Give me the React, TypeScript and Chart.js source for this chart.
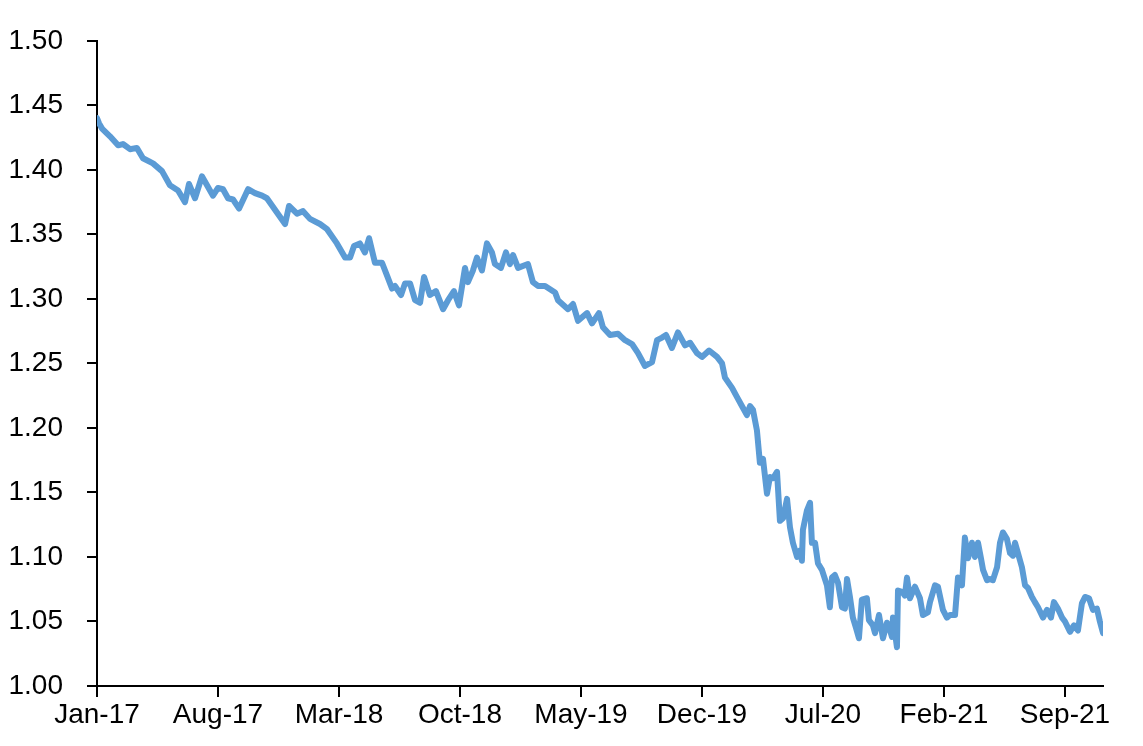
import React, { useEffect, useRef } from "react";
import { Chart, registerables } from "chart.js";

Chart.register(...registerables);

// Months elapsed since Jan-2017 for each observation
const monthsSinceJan17 = [
  0, 0.12, 0.29, 0.75, 1.22, 1.5, 1.91, 2.31, 2.66, 3.24, 3.76, 4.22, 4.69, 5.09, 5.32, 5.67, 6.07, 6.71, 7.0, 7.29,
  7.58, 7.87, 8.22, 8.74, 9.14, 9.55, 9.83, 10.41, 10.88, 11.11, 11.57, 11.92, 12.32, 12.9, 13.31, 13.88, 14.35, 14.64, 14.87, 15.21,
  15.5, 15.74, 16.08, 16.49, 16.78, 17.07, 17.24, 17.59, 17.82, 18.11, 18.4, 18.69, 18.92, 19.26, 19.61, 20.02, 20.31, 20.65, 20.94, 21.29,
  21.46, 21.75, 21.98, 22.27, 22.56, 22.85, 23.02, 23.37, 23.66, 23.89, 24.07, 24.36, 24.93, 25.22, 25.51, 25.92, 26.5, 26.67, 27.25, 27.54,
  27.83, 28.35, 28.64, 29.04, 29.27, 29.68, 30.14, 30.55, 30.95, 31.3, 31.7, 32.11, 32.4, 32.69, 32.92, 33.26, 33.61, 34.02, 34.31, 34.71,
  35.0, 35.41, 35.87, 36.16, 36.33, 36.74, 37.02, 37.31, 37.6, 37.78, 37.95, 38.18, 38.35, 38.53, 38.76, 38.93, 39.11, 39.34, 39.51, 39.69,
  39.92, 40.09, 40.26, 40.5, 40.67, 40.78, 40.84, 41.07, 41.25, 41.36, 41.54, 41.71, 41.94, 42.23, 42.4, 42.52, 42.69, 42.87, 43.1, 43.27,
  43.39, 43.56, 43.73, 43.91, 44.08, 44.25, 44.54, 44.66, 44.89, 45.01, 45.24, 45.47, 45.7, 45.82, 45.99, 46.05, 46.28, 46.34, 46.57, 46.74,
  46.86, 47.03, 47.32, 47.61, 47.78, 48.07, 48.19, 48.48, 48.65, 48.94, 49.17, 49.35, 49.64, 49.81, 50.04, 50.21, 50.39, 50.62, 50.79, 50.97,
  51.14, 51.26, 51.49, 51.66, 51.83, 52.07, 52.24, 52.41, 52.64, 52.82, 52.99, 53.11, 53.28, 53.51, 53.69, 53.86, 54.09, 54.26, 54.44, 54.73,
  54.96, 55.19, 55.36, 55.59, 55.83, 56.0, 56.29, 56.52, 56.75, 56.98, 57.16, 57.39, 57.62, 57.85, 58.02, 58.2,
];

const seriesValues = [
  1.44, 1.436, 1.432, 1.426, 1.419, 1.42, 1.416, 1.417, 1.409, 1.405, 1.399, 1.388, 1.384, 1.375, 1.389, 1.378, 1.395, 1.38, 1.386, 1.385,
  1.378, 1.377, 1.37, 1.385, 1.382, 1.38, 1.378, 1.367, 1.358, 1.372, 1.366, 1.368, 1.362, 1.358, 1.354, 1.343, 1.332, 1.332, 1.341, 1.343,
  1.336, 1.347, 1.328, 1.328, 1.318, 1.308, 1.31, 1.303, 1.312, 1.312, 1.299, 1.297, 1.317, 1.303, 1.306, 1.292, 1.299, 1.306, 1.295, 1.324,
  1.313, 1.322, 1.332, 1.322, 1.343, 1.336, 1.327, 1.324, 1.336, 1.327, 1.334, 1.324, 1.327, 1.313, 1.31, 1.31, 1.305, 1.299, 1.292, 1.296,
  1.283, 1.289, 1.281, 1.289, 1.278, 1.272, 1.273, 1.268, 1.265, 1.258, 1.248, 1.251, 1.268, 1.27, 1.272, 1.262, 1.274, 1.264, 1.266, 1.258,
  1.255, 1.26, 1.255, 1.25, 1.239, 1.231, 1.224, 1.217, 1.21, 1.217, 1.214, 1.198, 1.173, 1.176, 1.149, 1.162, 1.161, 1.166, 1.128, 1.13,
  1.145, 1.123, 1.111, 1.1, 1.105, 1.097, 1.121, 1.136, 1.142, 1.111, 1.111, 1.095, 1.09, 1.078, 1.061, 1.084, 1.086, 1.08, 1.061, 1.06,
  1.083, 1.069, 1.053, 1.045, 1.037, 1.067, 1.068, 1.051, 1.047, 1.041, 1.055, 1.037, 1.049, 1.046, 1.038, 1.053, 1.03, 1.074, 1.073, 1.07,
  1.084, 1.068, 1.077, 1.068, 1.055, 1.057, 1.065, 1.078, 1.077, 1.059, 1.053, 1.055, 1.055, 1.084, 1.078, 1.115, 1.099, 1.111, 1.1, 1.111,
  1.099, 1.09, 1.082, 1.083, 1.082, 1.092, 1.111, 1.119, 1.114, 1.103, 1.101, 1.111, 1.103, 1.092, 1.078, 1.076, 1.069, 1.065, 1.061, 1.053,
  1.059, 1.053, 1.065, 1.06, 1.053, 1.05, 1.042, 1.047, 1.043, 1.064, 1.069, 1.068, 1.059, 1.06, 1.05, 1.041,
];

const xTickMonths = [0, 7, 14, 21, 28, 35, 42, 49, 56];
const xTickLabels = ["Jan-17", "Aug-17", "Mar-18", "Oct-18", "May-19", "Dec-19", "Jul-20", "Feb-21", "Sep-21"];
const yTickValues = [1.0, 1.05, 1.1, 1.15, 1.2, 1.25, 1.3, 1.35, 1.4, 1.45, 1.5];

export default function App() {
  const canvasRef = useRef<HTMLCanvasElement | null>(null);

  useEffect(() => {
    const canvas = canvasRef.current;
    if (!canvas) return;
    const font = { family: "'Liberation Sans', Arial, sans-serif", size: 28 };
    const chart = new Chart(canvas, {
      type: "line",
      data: {
        datasets: [
          {
            data: monthsSinceJan17.map((m, i) => ({ x: m, y: seriesValues[i] })),
            borderColor: "#5B9BD5",
            borderWidth: 6,
            pointRadius: 0,
            tension: 0,
            borderJoinStyle: "round",
            borderCapStyle: "round",
            fill: false,
          },
        ],
      },
      options: {
        animation: false,
        responsive: false,
        devicePixelRatio: 1,
        layout: { padding: { left: 0, top: 40, right: 40, bottom: 0 } },
        plugins: { legend: { display: false }, tooltip: { enabled: false } },
        scales: {
          x: {
            type: "linear",
            min: 0,
            max: monthsSinceJan17[monthsSinceJan17.length - 1],
            afterBuildTicks: (s: any) => {
              s.ticks = xTickMonths.map((v) => ({ value: v }));
            },
            afterFit: (s: any) => {
              s.height = 60;
            },
            ticks: {
              autoSkip: false,
              maxRotation: 0,
              minRotation: 0,
              padding: 1,
              color: "#000",
              font,
              callback: (v: any) => {
                const i = xTickMonths.indexOf(Number(v));
                return i >= 0 ? xTickLabels[i] : "";
              },
            },
            grid: {
              drawOnChartArea: false,
              drawTicks: true,
              tickLength: 11,
              color: "#000",
              lineWidth: 2,
            },
            border: { display: true, color: "#000", width: 2 },
          },
          y: {
            type: "linear",
            min: 1.0,
            max: 1.5,
            afterBuildTicks: (s: any) => {
              s.ticks = yTickValues.map((v) => ({ value: v }));
            },
            afterFit: (s: any) => {
              s.width = 97;
            },
            ticks: {
              padding: 24,
              color: "#000",
              font,
              callback: (v: any) => Number(v).toFixed(2),
            },
            grid: {
              drawOnChartArea: false,
              drawTicks: true,
              tickLength: 10,
              color: "#000",
              lineWidth: 2,
            },
            border: { display: true, color: "#000", width: 2 },
          },
        },
      },
    } as any);
    return () => chart.destroy();
  }, []);

  return (
    <div style={{ position: "fixed", left: 0, top: 0, width: 1143, height: 746, background: "#fff" }}>
      <canvas ref={canvasRef} width={1143} height={746} style={{ display: "block" }} />
    </div>
  );
}
